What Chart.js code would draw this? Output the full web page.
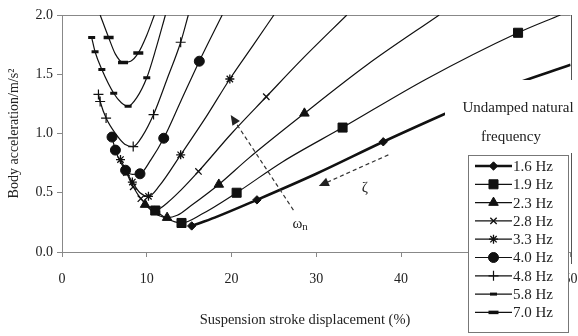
<!DOCTYPE html>
<html lang="en">
<head>
<meta charset="UTF-8">
<title>Body acceleration vs suspension stroke</title>
<script src="https://cdn.jsdelivr.net/npm/chart.js"></script>
<style>
  html, body { margin: 0; padding: 0; background: #fff; }
</style>
</head>
<body>
<canvas id="chart" width="578" height="336"></canvas>
<script>
// legend labels, one per curve
const freqLabels = ['1.6 Hz', '1.9 Hz', '2.3 Hz', '2.8 Hz', '3.3 Hz', '4.0 Hz', '4.8 Hz', '5.8 Hz', '7.0 Hz'];

// points: [stroke displacement %, body acceleration m/s², marker drawn 1/0]
const hz16 = [[15.3,0.22,1],[18.0,0.29,0],[23.0,0.44,1],[30.0,0.66,0],[37.9,0.93,1],[45.0,1.16,0],[52.0,1.38,0],[60.0,1.58,0]];
const hz19 = [[11.0,0.35,1],[12.4,0.28,0],[14.1,0.245,1],[16.5,0.32,0],[20.6,0.50,1],[26.0,0.76,0],[33.1,1.05,1],[43.0,1.46,0],[53.8,1.85,1],[58.8,2.0,0]];
const hz23 = [[9.8,0.40,1],[10.9,0.33,0],[12.4,0.29,1],[13.6,0.31,0],[15.2,0.39,0],[18.5,0.57,1],[22.0,0.79,0],[28.6,1.17,1],[36.0,1.58,0],[44.5,2.0,0]];
const hz28 = [[7.6,0.67,1],[8.4,0.55,1],[9.3,0.45,1],[10.3,0.38,0],[11.2,0.36,1],[12.5,0.42,0],[14.0,0.52,0],[16.1,0.68,1],[20.0,1.0,0],[24.1,1.31,1],[28.5,1.64,0],[33.6,2.0,0]];
const hz33 = [[6.9,0.78,1],[7.6,0.68,0],[8.3,0.59,1],[9.2,0.50,0],[10.2,0.47,1],[11.5,0.56,0],[14.0,0.82,1],[17.0,1.14,0],[19.8,1.46,1],[22.5,1.74,0],[25.0,2.0,0]];
const hz40 = [[5.9,0.97,1],[6.3,0.86,1],[7.5,0.69,1],[8.3,0.655,0],[9.2,0.66,1],[10.5,0.78,0],[12.0,0.96,1],[14.0,1.27,0],[16.2,1.61,1],[18.9,2.0,0]];
const hz48 = [[4.3,1.33,1],[4.5,1.27,1],[5.2,1.13,1],[6.4,0.99,0],[7.4,0.91,0],[8.4,0.89,1],[9.5,0.98,0],[10.8,1.16,1],[12.4,1.46,0],[14.0,1.77,1],[14.9,2.0,0]];
const hz58 = [[3.5,1.81,1],[3.9,1.69,1],[4.7,1.54,1],[6.1,1.34,1],[7.0,1.26,0],[7.8,1.23,1],[8.8,1.30,0],[10.0,1.47,1],[11.1,1.72,0],[12.2,2.0,0]];
const hz70 = [[4.5,2.0,0],[5.5,1.81,1],[6.3,1.67,0],[7.2,1.60,1],[8.1,1.61,0],[9.0,1.68,1],[10.0,1.83,0],[10.9,2.0,0]];

const xTicks = [0, 10, 20, 30, 40, 50, 60];
const yTicks = [0, 0.5, 1.0, 1.5, 2.0];

// arrow annotations in data units: [x0, y0, x1(tip), y1(tip)]
const omegaArrow = [27.3, 0.354, 19.9, 1.156];
const zetaArrow = [38.5, 0.82, 30.3, 0.557];

const serif = '"Liberation Serif", "DejaVu Serif", serif';

// marker look for each curve
const styles = [
    { pointStyle: 'rectRot',  r: 4.2, lw: 2.6, pb: 1 },
    { pointStyle: 'rect',     r: 6.4, lw: 1.2, pb: 1 },
    { pointStyle: 'triangle', r: 5.5, lw: 1.2, pb: 1 },
    { pointStyle: 'crossRot', r: 4.5, lw: 1.2, pb: 1.3 },
    { pointStyle: 'star',     r: 4.5, lw: 1.2, pb: 1.3 },
    { pointStyle: 'circle',   r: 5,   lw: 1.2, pb: 1 },
    { pointStyle: 'cross',    r: 5,   lw: 1.2, pb: 1.2 },
    { pointStyle: 'line',     r: 3.5, lw: 1.2, pb: 3 },
    { pointStyle: 'line',     r: 5,   lw: 1.2, pb: 3.5 }
];
const series = [hz16, hz19, hz23, hz28, hz33, hz40, hz48, hz58, hz70];

const datasets = series.map((s, i) => ({
    label: freqLabels[i],
    data: s.map(p => ({ x: p[0], y: p[1] })),
    borderColor: '#111',
    backgroundColor: '#111',
    borderWidth: styles[i].lw,
    pointStyle: styles[i].pointStyle,
    pointRadius: s.map(p => p[2] ? styles[i].r : 0),
    pointBorderWidth: styles[i].pb,
    pointBackgroundColor: '#111',
    pointBorderColor: '#111',
    cubicInterpolationMode: 'monotone',
    fill: false
}));

function dashedArrow(ctx, x0, y0, x1, y1) {
    ctx.save();
    ctx.strokeStyle = '#333';
    ctx.fillStyle = '#222';
    ctx.lineWidth = 1.2;
    ctx.setLineDash([4, 3]);
    const ang = Math.atan2(y1 - y0, x1 - x0);
    ctx.beginPath();
    ctx.moveTo(x0, y0);
    ctx.lineTo(x1 - 8 * Math.cos(ang), y1 - 8 * Math.sin(ang));
    ctx.stroke();
    ctx.setLineDash([]);
    ctx.beginPath();
    ctx.moveTo(x1, y1);
    ctx.lineTo(x1 - 10 * Math.cos(ang) + 4.5 * Math.sin(ang), y1 - 10 * Math.sin(ang) - 4.5 * Math.cos(ang));
    ctx.lineTo(x1 - 10 * Math.cos(ang) - 4.5 * Math.sin(ang), y1 - 10 * Math.sin(ang) + 4.5 * Math.cos(ang));
    ctx.closePath();
    ctx.fill();
    ctx.restore();
}

const overlay = {
    id: 'overlay',
    beforeDatasetsDraw(chart) {
        // right-hand frame line of the plot, runs a little below the axis
        const { ctx, chartArea: a } = chart;
        ctx.save();
        ctx.strokeStyle = '#555';
        ctx.lineWidth = 1;
        ctx.beginPath();
        ctx.moveTo(Math.round(a.right) + 0.5, a.top);
        ctx.lineTo(Math.round(a.right) + 0.5, a.bottom + 12);
        ctx.stroke();
        ctx.restore();
    },
    afterDatasetsDraw(chart) {
        const { ctx, scales: { x, y } } = chart;
        dashedArrow(ctx, x.getPixelForValue(omegaArrow[0]), y.getPixelForValue(omegaArrow[1]),
            x.getPixelForValue(omegaArrow[2]), y.getPixelForValue(omegaArrow[3]));
        dashedArrow(ctx, x.getPixelForValue(zetaArrow[0]), y.getPixelForValue(zetaArrow[1]),
            x.getPixelForValue(zetaArrow[2]), y.getPixelForValue(zetaArrow[3]));
        ctx.save();
        ctx.fillStyle = '#222';
        ctx.textBaseline = 'middle';
        const ox = x.getPixelForValue(omegaArrow[0]) - 1, oy = y.getPixelForValue(omegaArrow[1]) + 14;
        ctx.font = '15px ' + serif;
        ctx.fillText('ω', ox, oy);
        const w = ctx.measureText('ω').width;
        ctx.font = '11px ' + serif;
        ctx.fillText('n', ox + w, oy + 3);
        ctx.font = '15px ' + serif;
        ctx.fillText('ζ', x.getPixelForValue(zetaArrow[2]) + 43, y.getPixelForValue(zetaArrow[3]) + 2);
        ctx.restore();
    },
    afterDraw(chart) {
        const ctx = chart.ctx;
        ctx.save();
        // x axis title, sits a little left of the plot centre in the figure
        ctx.fillStyle = '#222';
        ctx.font = '14.5px ' + serif;
        ctx.textAlign = 'center';
        ctx.textBaseline = 'middle';
        ctx.fillText('Suspension stroke displacement (%)', 305, 320);

        // white box behind the legend title
        ctx.fillStyle = '#fff';
        ctx.fillRect(445, 80, 133, 73);
        ctx.fillStyle = '#222';
        ctx.font = '15px ' + serif;
        ctx.fillText('Undamped natural', 518, 108);
        ctx.fillText('frequency', 511, 137);

        // legend box
        const lx = 468, ly = 155, lw = 100, lh = 177;
        ctx.fillStyle = '#fff';
        ctx.fillRect(lx, ly, lw, lh);
        ctx.strokeStyle = '#777';
        ctx.lineWidth = 1;
        ctx.strokeRect(lx + 0.5, ly + 0.5, lw, lh);
        ctx.textAlign = 'left';
        chart.data.datasets.forEach((ds, i) => {
            const cy = 166 + i * 18.3;
            ctx.strokeStyle = '#111';
            ctx.lineWidth = ds.borderWidth;
            ctx.beginPath();
            ctx.moveTo(475, cy);
            ctx.lineTo(512, cy);
            ctx.stroke();
            ctx.fillStyle = '#111';
            ctx.lineWidth = ds.pointBorderWidth;
            const opts = { pointStyle: ds.pointStyle, radius: styles[i].r, rotation: 0, borderWidth: ds.pointBorderWidth };
            if (Chart.helpers && Chart.helpers.drawPoint) {
                Chart.helpers.drawPoint(ctx, opts, 493.5, cy);
            } else {
                ctx.beginPath();
                ctx.arc(493.5, cy, 3, 0, Math.PI * 2);
                ctx.fill();
            }
            ctx.fillStyle = '#222';
            ctx.font = '15px ' + serif;
            ctx.fillText(ds.label, 513, cy + 1);
        });
        ctx.restore();
    }
};

new Chart(document.getElementById('chart'), {
    type: 'line',
    data: { datasets: datasets },
    plugins: [overlay],
    options: {
        responsive: false,
        animation: false,
        layout: { padding: { top: 15, right: 7, left: 0, bottom: 0 } },
        plugins: { legend: { display: false }, tooltip: { enabled: false } },
        scales: {
            x: {
                type: 'linear',
                min: xTicks[0],
                max: xTicks[xTicks.length - 1],
                afterBuildTicks: s => { s.ticks = xTicks.map(v => ({ value: v })); },
                afterFit: s => { s.height = 84; s.paddingLeft = 0; s.paddingRight = 0; },
                ticks: {
                    // the right-hand label in the figure reads "50"
                    callback: v => v === 60 ? '50' : String(v),
                    font: { family: serif, size: 14 },
                    color: '#222',
                    padding: 14,
                    maxRotation: 0
                },
                grid: {
                    color: 'rgba(0,0,0,0)',
                    tickColor: '#888',
                    tickLength: 5
                },
                border: { display: true, color: '#888', width: 1 }
            },
            y: {
                min: 0,
                max: 2,
                afterBuildTicks: s => { s.ticks = yTicks.map(v => ({ value: v })); },
                afterFit: s => { s.width = 62; },
                ticks: {
                    callback: v => Number(v).toFixed(1),
                    font: { family: serif, size: 14 },
                    color: '#222',
                    padding: 4
                },
                grid: {
                    color: c => (c.tick && c.tick.value === 2) ? '#888' : 'rgba(0,0,0,0)',
                    tickColor: '#888',
                    tickLength: 5
                },
                border: { display: true, color: '#888', width: 1 },
                title: {
                    display: true,
                    text: 'Body acceleration/m/s²',
                    font: { family: serif, size: 14 },
                    color: '#222',
                    padding: { top: 6, bottom: 0 }
                }
            }
        }
    }
});
</script>
</body>
</html>
